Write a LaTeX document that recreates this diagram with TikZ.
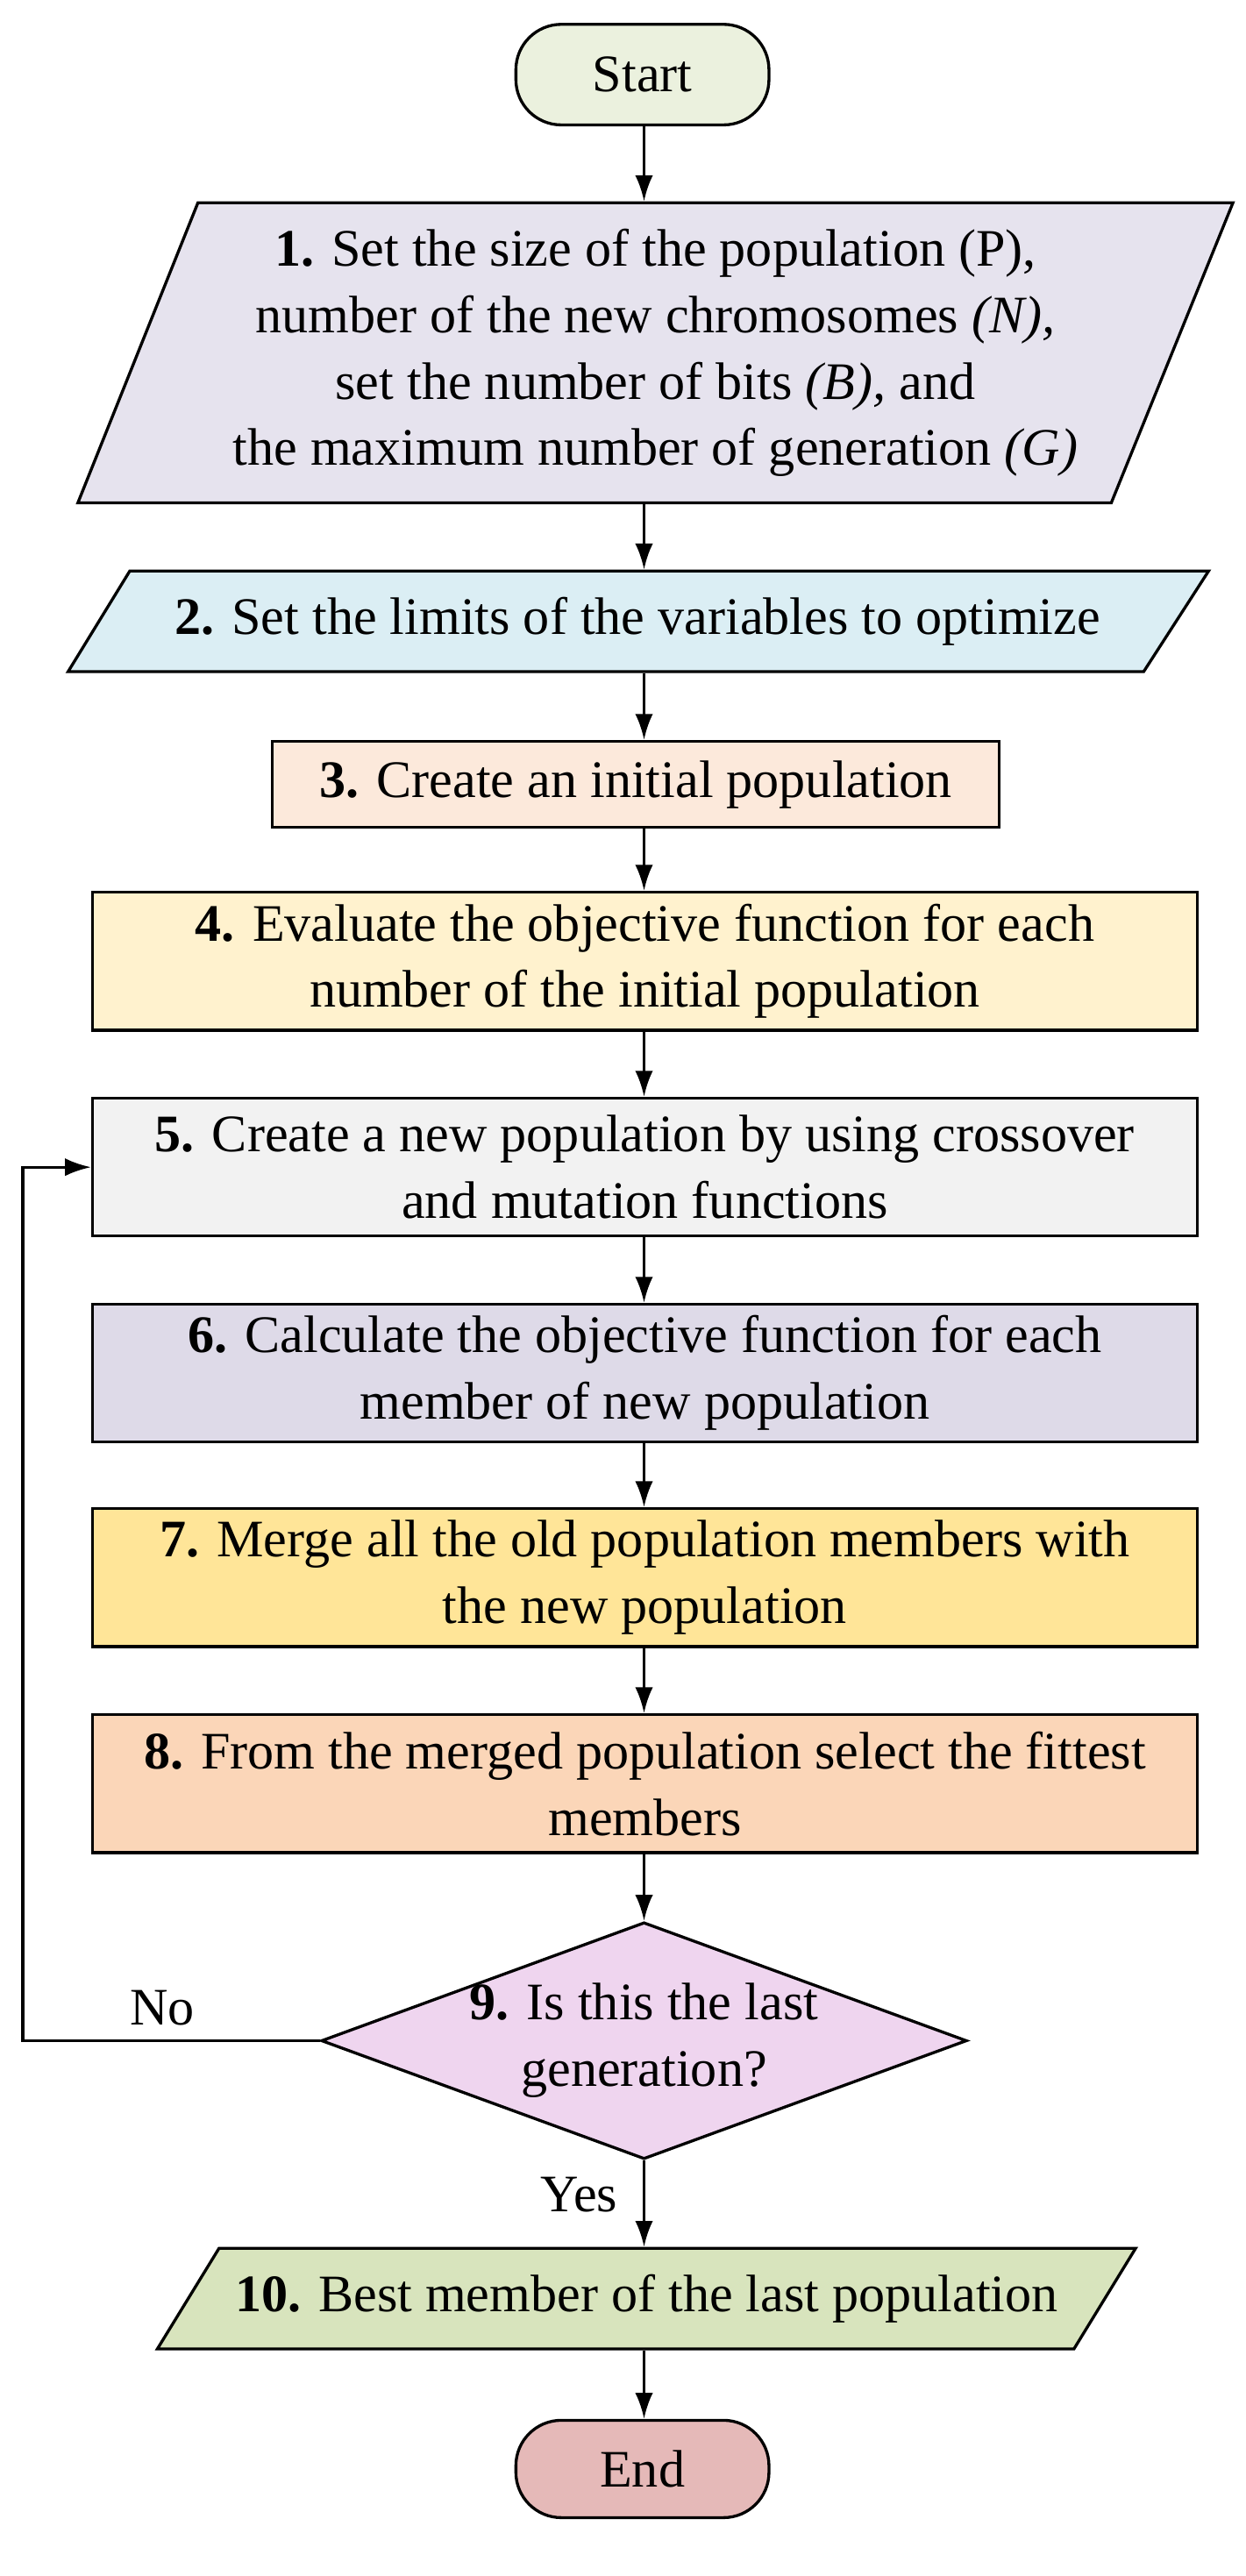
\documentclass[tikz,border=0pt]{standalone}
\usepackage{fontspec}
\setmainfont{Liberation Serif}
\usetikzlibrary{shapes.geometric,arrows.meta}
\definecolor{cStart}{HTML}{EBF1DE}
\definecolor{cOne}{HTML}{E6E3EE}
\definecolor{cTwo}{HTML}{DBEEF4}
\definecolor{cThree}{HTML}{FCE9DB}
\definecolor{cFour}{HTML}{FFF2CE}
\definecolor{cFive}{HTML}{F2F2F2}
\definecolor{cSix}{HTML}{DEDAE8}
\definecolor{cSeven}{HTML}{FFE598}
\definecolor{cEight}{HTML}{FBD6B8}
\definecolor{cNine}{HTML}{EFD5EF}
\definecolor{cTen}{HTML}{D8E4BD}
\definecolor{cEnd}{HTML}{E5B9B8}
\begin{document}
\begin{tikzpicture}[x=1pt,y=-1pt,line width=1.8pt,
  every node/.style={font=\fontsize{32.5}{41}\selectfont,align=center,inner sep=0pt},
  box/.style={draw,rectangle},
  term/.style={draw,rounded corners=28pt,minimum width=156pt,minimum height=62pt},
  arr/.style={-{Latex[length=16pt,width=11pt]}},
  para/.style={draw,fill=#1}]
\useasboundingbox (0,0) rectangle (768,1588);
\node[term,fill=cStart] (s) at (396,46) {Start};
\draw[para=cOne] (122,125)--(760,125)--(685,310)--(48,310)--cycle;
\node[minimum width=560pt,minimum height=185pt] (n1) at (404,217.5) {\textbf{1.} Set the size of the population (P),\\ number of the new chromosomes \textit{(N),}\\ set the number of bits \textit{(B),} and\\ the maximum number of generation \textit{(G)}};
\draw[para=cTwo] (80,352)--(745,352)--(705,414)--(42,414)--cycle;
\node[minimum width=600pt,minimum height=62pt] (n2) at (393,383) {\textbf{2.} Set the limits of the variables to optimize};
\node[box,fill=cThree,minimum width=448pt,minimum height=53pt] (n3) at (392,483.5) {\textbf{3.} Create an initial population};
\node[box,fill=cFour,minimum width=681pt,minimum height=85pt] (n4) at (397.5,592.5) {\textbf{4.} Evaluate the objective function for each\\ number of the initial population};
\node[box,fill=cFive,minimum width=681pt,minimum height=85pt] (n5) at (397.5,719.5) {\textbf{5.} Create a new population by using crossover\\ and mutation functions};
\node[box,fill=cSix,minimum width=681pt,minimum height=85pt] (n6) at (397.5,846.5) {\textbf{6.} Calculate the objective function for each\\ member of new population};
\node[box,fill=cSeven,minimum width=681pt,minimum height=85pt] (n7) at (397.5,972.5) {\textbf{7.} Merge all the old population members with\\ the new population};
\node[box,fill=cEight,minimum width=681pt,minimum height=85pt] (n8) at (397.5,1099.5) {\textbf{8.} From the merged population select the fittest\\ members};
\node[draw,diamond,fill=cNine,minimum width=398pt,minimum height=146pt,aspect=2.73] (n9) at (397,1258) {};
\node at (397,1258) {\textbf{9.} Is this the last\\ generation?};
\draw[para=cTen] (135,1386)--(700,1386)--(662,1448)--(97,1448)--cycle;
\node[minimum width=560pt,minimum height=62pt] (n10) at (398.5,1417) {\textbf{10.} Best member of the last population};
\node[term,fill=cEnd,minimum height=60pt] (e) at (396,1522) {End};
\coordinate (c1) at (14,1258);
\coordinate (c2) at (14,719.5);
\coordinate (ax) at (397,0);
\draw[arr] (ax |- s.south) -- (ax |- n1.north);
\draw[arr] (ax |- n1.south) -- (ax |- n2.north);
\draw[arr] (ax |- n2.south) -- (ax |- n3.north);
\draw[arr] (ax |- n3.south) -- (ax |- n4.north);
\draw[arr] (ax |- n4.south) -- (ax |- n5.north);
\draw[arr] (ax |- n5.south) -- (ax |- n6.north);
\draw[arr] (ax |- n6.south) -- (ax |- n7.north);
\draw[arr] (ax |- n7.south) -- (ax |- n8.north);
\draw[arr] (ax |- n8.south) -- (n9.north);
\draw[arr] (n9.south) -- (ax |- n10.north);
\draw[arr] (ax |- n10.south) -- (ax |- e.north);
\draw[arr] (n9.west) -- (c1) -- (c2) -- (n5.west);
\node at (100,1238) {No};
\node at (357,1353) {Yes};
\end{tikzpicture}
\end{document}
